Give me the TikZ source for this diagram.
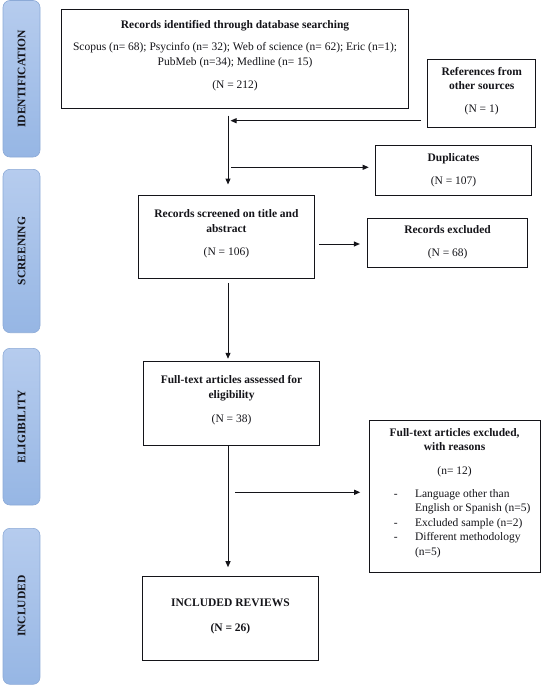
\documentclass[tikz,border=0pt]{standalone}
\usepackage{fontspec}
\setmainfont{Liberation Serif}
\usetikzlibrary{arrows.meta}
\definecolor{barTop}{RGB}{182,204,238}
\definecolor{barBot}{RGB}{150,182,228}
\definecolor{barEdge}{RGB}{140,170,215}
\definecolor{ink}{RGB}{20,20,25}
\begin{document}
\begin{tikzpicture}[x=1pt,y=-1pt,
  box/.style={draw=ink, line width=1pt, inner sep=0pt},
  phase/.style={top color=barTop, bottom color=barBot, draw=barEdge, line width=0.6pt, rounded corners=7pt, minimum width=37pt, inner sep=0pt},
  plabel/.style={rotate=90, font=\fontsize{11.5}{13}\selectfont\bfseries, text=ink, inner sep=0pt},
  txt/.style={font=\fontsize{11.5}{14}\selectfont, text=ink, inner sep=0pt, text height=9pt, text depth=2pt},
  btxt/.style={txt, font=\fontsize{11.5}{14}\selectfont\bfseries},
  line/.style={draw=ink, line width=1pt},
  arr/.style={line, -{Triangle[length=6pt,width=5pt]}}]
\useasboundingbox (0,0) rectangle (542,685);

% phase bars
\node[phase, minimum height=156.5pt] (pid) at (21.5,78.75) {};
\node[plabel] (lid) at (pid) {IDENTIFICATION};
\node[phase, minimum height=163.4pt] (psc) at (21.5,251) {};
\node[plabel] (lsc) at (psc) {SCREENING};
\node[phase, minimum height=156.7pt] (pel) at (21.5,426.65) {};
\node[plabel] (lel) at (pel) {ELIGIBILITY};
\node[phase, minimum height=156pt] (pin) at (21.5,606.3) {};
\node[plabel] (lin) at (pin) {INCLUDED};

% boxes
\node[box, minimum width=347.1pt, minimum height=99pt] (top) at (235.05,58.8) {};
\node[box, minimum width=108.2pt, minimum height=68.4pt] (ref) at (481.7,93.5) {};
\node[box, minimum width=155.6pt, minimum height=49.3pt] (dup) at (453.5,170.35) {};
\node[box, minimum width=176.3pt, minimum height=83.3pt] (scr) at (226.45,236.65) {};
\node[box, minimum width=160.4pt, minimum height=49pt] (exc) at (447.6,242.8) {};
\node[box, minimum width=176.3pt, minimum height=84pt] (ass) at (231.55,403) {};
\node[box, minimum width=171.2pt, minimum height=152.3pt] (rea) at (454.6,496.15) {};
\node[box, minimum width=176pt, minimum height=84pt] (inc) at (230.4,618.7) {};

% texts
\node[btxt] (t1) at (235.05,25) {Records identified through database searching};
\node[txt] (t2) at (235.05,47) {Scopus (n= 68); Psycinfo (n= 32); Web of science (n= 62); Eric (n=1);};
\node[txt] (t3) at (235.05,62) {PubMeb (n=34); Medline (n= 15)};
\node[txt] (t4) at (235.05,85) {(N = 212)};

\node[btxt] (r1) at (481.7,72) {References from};
\node[btxt] (r2) at (481.7,86) {other sources};
\node[txt] (r3) at (481.7,109) {(N = 1)};

\node[btxt] (d1) at (453.5,157.7) {Duplicates};
\node[txt] (d2) at (453.5,180.7) {(N = 107)};

\node[btxt] (s1) at (226.45,214) {Records screened on title and};
\node[btxt] (s2) at (226.45,229) {abstract};
\node[txt] (s3) at (226.45,251.7) {(N = 106)};

\node[btxt] (e1) at (447.6,230) {Records excluded};
\node[txt] (e2) at (447.6,253.3) {(N = 68)};

\node[btxt] (a1) at (231.55,380) {Full-text articles assessed for};
\node[btxt] (a2) at (231.55,395) {eligibility};
\node[txt] (a3) at (231.55,419) {(N = 38)};

\node[btxt] (f1) at (454.6,433.3) {Full-text articles excluded,};
\node[btxt] (f2) at (454.6,447.3) {with reasons};
\node[txt] (f3) at (454.6,471) {(n= 12)};
\node[txt] (k1) at (395.8,494) {-};
\node[txt] (k2) at (395.8,522.7) {-};
\node[txt] (k3) at (395.8,537) {-};
\node[txt, anchor=west] (g1) at (414.8,494) {Language other than};
\node[txt, anchor=west] (g2) at (414.8,508.3) {English or Spanish (n=5)};
\node[txt, anchor=west] (g3) at (414.8,522.7) {Excluded sample (n=2)};
\node[txt, anchor=west] (g4) at (414.8,537) {Different methodology};
\node[txt, anchor=west] (g5) at (414.8,552.3) {(n=5)};

\node[btxt] (i1) at (230.4,603.3) {INCLUDED REVIEWS};
\node[btxt] (i2) at (230.4,628.3) {(N = 26)};

% connectors
\coordinate (col) at (228,0);
\coordinate (j1) at (228,120.7);
\coordinate (j2) at (228,167.3);
\coordinate (j3) at (228,492.3);
\draw[arr, shorten <=6.7pt, shorten >=10pt] (top.south -| col) -- (scr.north -| col);
\draw[arr, shorten <=6pt, shorten >=2.5pt] (ref.west |- j1) -- (j1);
\draw[arr, shorten <=3pt, shorten >=6.5pt] (j2) -- (dup.west |- j2);
\draw[arr, shorten <=4pt, shorten >=7pt] (scr.east |- 0,244) -- (exc.west |- 0,244);
\draw[arr, shorten <=4pt, shorten >=1.7pt] (scr.south -| col) -- (ass.north -| col);
\draw[arr, shorten >=9pt] (ass.south -| col) -- (inc.north -| col);
\draw[arr, shorten <=7pt, shorten >=8.3pt] (j3) -- (rea.west |- j3);
\end{tikzpicture}
\end{document}
